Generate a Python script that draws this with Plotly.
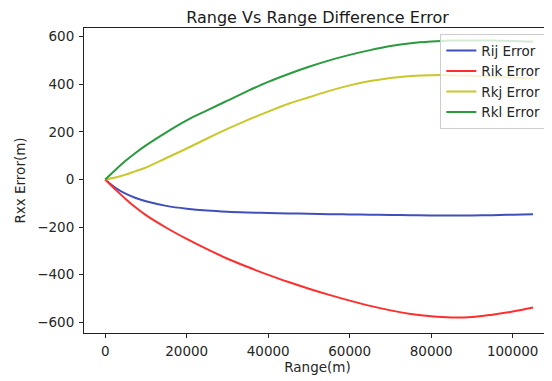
import plotly.graph_objects as go

range_m = [0, 2500, 5000, 7500, 10000, 15000, 20000, 25000, 30000, 35000, 40000,
           45000, 50000, 55000, 60000, 65000, 70000, 75000, 80000, 85000, 90000,
           95000, 100000, 105000]

rij_err = [0, -35, -60, -78, -92, -111, -123, -131, -136, -139, -141, -143, -144,
           -146, -147, -148, -149, -150, -151, -151, -151, -150, -148, -146]
rik_err = [0, -42, -82, -118, -150, -203, -250, -293, -333, -368, -401, -431, -459,
           -485, -509, -531, -550, -565, -575, -580, -578, -568, -555, -538]
rkj_err = [0, 8, 20, 35, 50, 90, 130, 172, 212, 250, 285, 318, 345, 372, 395, 413,
           426, 434, 438, 438, 435, 432, 428, 424]
rkl_err = [0, 40, 78, 112, 143, 198, 248, 290, 331, 372, 410, 443, 473, 500, 523,
           543, 560, 572, 579, 583, 584, 583, 581, 578]

series_names = ["Rij Error", "Rik Error", "Rkj Error", "Rkl Error"]
series_vals = [rij_err, rik_err, rkj_err, rkl_err]
series_colors = ["#3f4fbb", "#ff2e2e", "#c8c82a", "#2a9a3e"]

x_tickvals = [0, 20000, 40000, 60000, 80000, 100000]
x_ticktext = ["0", "20000", "40000", "60000", "80000", "100000"]
y_tickvals = [-600, -400, -200, 0, 200, 400, 600]
y_ticktext = ["\u2212600", "\u2212400", "\u2212200", "0", "200", "400", "600"]

FONT = "DejaVu Sans"
W, H = 544, 373  # page body has an 8px margin
FS = 13.5

fig = go.Figure()
for name, vals, col in zip(series_names, series_vals, series_colors):
    fig.add_trace(go.Scatter(x=range_m, y=vals, mode="lines", name=name,
                             line=dict(color=col, width=2, shape="spline", smoothing=1.0)))

axis_common = dict(showline=True, linecolor="#222222", linewidth=1, mirror=True,
                   ticks="outside", ticklen=4, tickcolor="#222222", tickwidth=1,
                   showgrid=False, zeroline=False, automargin=False,
                   ticklabelstandoff=2,
                   tickfont=dict(family=FONT, size=FS, color="#262626"))

fig.update_layout(
    width=W, height=H,
    margin=dict(l=76, r=1, t=20, b=48),
    paper_bgcolor="white", plot_bgcolor="white",
    font=dict(family=FONT, size=FS, color="#262626"),
    title=dict(text="Range Vs Range Difference Error", x=0.5, xref="paper",
               y=1 - 9 / H, yref="container", xanchor="center", yanchor="middle",
               font=dict(family=FONT, size=16, color="#1a1a1a")),
    xaxis=dict(range=[-5200, 109400], tickvals=x_tickvals, ticktext=x_ticktext,
               title=dict(text="Range(m)", standoff=2, font=dict(family=FONT, size=FS)),
               **axis_common),
    yaxis=dict(range=[-645, 636], tickvals=y_tickvals, ticktext=y_ticktext,
               title=dict(text="Rxx Error(m)", standoff=8, font=dict(family=FONT, size=FS)),
               **axis_common),
    legend=dict(x=0.99, y=0.98, xanchor="right", yanchor="top",
                bgcolor="rgba(255,255,255,0.8)", bordercolor="#cccccc", borderwidth=1,
                font=dict(family=FONT, size=FS, color="#262626"),
                itemwidth=30, tracegroupgap=0),
    showlegend=True,
)

fig.write_html("out.html")
